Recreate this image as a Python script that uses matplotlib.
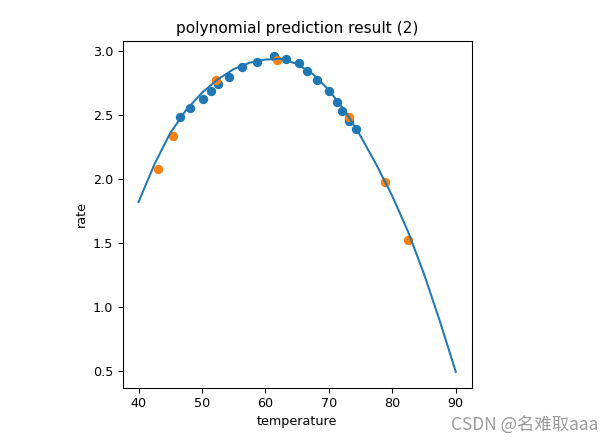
import matplotlib.pyplot as plt

plt.rcParams['font.size'] = 9.6

# training points (blue)
train_x = [46.6, 48.1, 50.1, 51.4, 52.6, 54.2, 56.25, 58.6, 61.3, 63.3,
           65.3, 66.5, 68.1, 70.0, 71.2, 72.0, 73.1, 74.3]
train_y = [2.486, 2.559, 2.626, 2.688, 2.741, 2.795, 2.875, 2.914, 2.959, 2.941,
           2.910, 2.844, 2.774, 2.688, 2.606, 2.536, 2.455, 2.390]

# test points (orange)
test_x = [43.0, 45.4, 52.25, 61.85, 73.1, 78.9, 82.5]
test_y = [2.081, 2.333, 2.774, 2.930, 2.486, 1.980, 1.526]

# predicted curve
curve_x = [40, 42.5, 45, 47.5, 50, 52.5, 55, 57.5, 60, 62.5, 65,
           67.5, 70, 72.5, 75, 77.5, 80, 82.5, 85, 87.5, 90]
curve_y = [1.82, 2.115, 2.36, 2.54, 2.675, 2.78, 2.86, 2.91, 2.935, 2.94, 2.90,
           2.82, 2.695, 2.535, 2.335, 2.11, 1.865, 1.585, 1.255, 0.885, 0.49]

fig = plt.figure(figsize=(614 / 96, 440 / 96), dpi=96)
ax = fig.add_axes([0.1998, 0.1189, 0.5684, 0.7886])
ax.scatter(train_x, train_y)
ax.scatter(test_x, test_y)
ax.plot(curve_x, curve_y)
ax.set_title('polynomial prediction result (2)')
ax.set_xlabel('temperature')
ax.set_ylabel('rate')

fig.text(0.974, 0.022, 'CSDN @名难取aaa', ha='right', va='baseline',
         fontsize=13, color='#9a9a9a',
         family=['Noto Sans CJK SC', 'DejaVu Sans'])

fig.savefig('out.png', dpi=96)
